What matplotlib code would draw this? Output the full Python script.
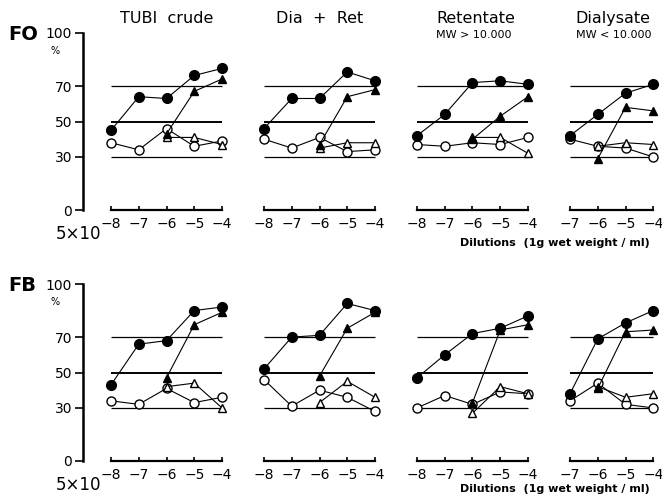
import numpy as np
import matplotlib
matplotlib.use('Agg')
import matplotlib.pyplot as plt

nan = np.nan

# dilution exponents (5x10^x g wet weight / ml)
x_full = [-8, -7, -6, -5, -4]
x_dia = [-7, -6, -5, -4]

titles = ['TUBI  crude', 'Dia  +  Ret', 'Retentate', 'Dialysate']
subtitles = ['', '', 'MW > 10.000', 'MW < 10.000']
row_names = ['FO', 'FB']
yticks = [0, 30, 50, 70, 100]

# FO row: filled circles, filled triangles, open circles, open triangles
fo_fc = [[45, 64, 63, 76, 80], [46, 63, 63, 78, 73], [42, 54, 72, 73, 71], [42, 54, 66, 71]]
fo_ft = [[nan, nan, 43, 67, 74], [nan, nan, 37, 64, 68], [nan, nan, 40, 53, 64], [nan, 29, 58, 56]]
fo_oc = [[38, 34, 46, 36, 39], [40, 35, 41, 33, 34], [37, 36, 38, 37, 41], [40, 36, 35, 30]]
fo_ot = [[nan, nan, 41, 41, 37], [nan, nan, 35, 38, 38], [nan, nan, 41, 41, 32], [nan, 36, 38, 37]]

# FB row
fb_fc = [[43, 66, 68, 85, 87], [52, 70, 71, 89, 85], [47, 60, 72, 75, 82], [38, 69, 78, 85]]
fb_ft = [[nan, nan, 47, 77, 84], [nan, nan, 48, 75, 84], [nan, nan, 33, 74, 77], [nan, 41, 73, 74]]
fb_oc = [[34, 32, 41, 33, 36], [46, 31, 40, 36, 28], [30, 37, 32, 39, 38], [34, 44, 32, 30]]
fb_ot = [[nan, nan, 42, 44, 30], [nan, nan, 33, 45, 36], [nan, nan, 27, 42, 38], [nan, 42, 36, 38]]

rows = [(fo_fc, fo_ft, fo_oc, fo_ot), (fb_fc, fb_ft, fb_oc, fb_ot)]

W, H = 662, 497
fig = plt.figure(figsize=(W / 100, H / 100), dpi=100)

px_x = 27.75      # pixels per decade
px_y = 1.77       # pixels per %
zero_px = [210, 461]                  # y pixel (from top) of 0 %
first_tick_px = [111, 264, 417, 570]  # x pixel of first tick in each panel
title_dx = [0, 0, 0.7, 0.2]


def add_panel(col, row):
    xs = x_dia if col == 3 else x_full
    x0 = xs[0]
    xlo = -9.2 if col == 0 else x0 - 0.4
    xhi = -3.6
    ylo, yhi = -5, 105
    left = first_tick_px[col] - (x0 - xlo) * px_x
    width = (xhi - xlo) * px_x
    bottom_top = zero_px[row] - ylo * px_y      # pixel from top of ylo
    height = (yhi - ylo) * px_y
    ax = fig.add_axes([left / W, (H - bottom_top) / H, width / W, height / H])
    ax.set_xlim(xlo, xhi)
    ax.set_ylim(ylo, yhi)
    ax.patch.set_alpha(0)
    return ax, xs


for r in range(2):
    fc, ft, oc, ot = rows[r]
    for c in range(4):
        ax, xs = add_panel(c, r)
        for s in ['top', 'right']:
            ax.spines[s].set_visible(False)
        ax.spines['bottom'].set_position(('data', 0))
        ax.spines['bottom'].set_bounds(xs[0], xs[-1])
        ax.spines['bottom'].set_linewidth(1.6)
        ax.set_xticks(xs)
        ax.set_xticklabels([f'\u2212{abs(v)}' for v in xs])
        ax.tick_params(axis='x', direction='in', length=3, width=1.2,
                       labelsize=10, pad=5)
        if c == 0:
            ax.spines['left'].set_position(('data', -9))
            ax.spines['left'].set_bounds(0, 100)
            ax.spines['left'].set_linewidth(1.8)
            ax.set_yticks(yticks)
            ax.tick_params(axis='y', direction='out', length=6, width=1.2,
                           labelsize=10, pad=2)
            ax.text(-10.0, 90, '%', fontsize=7, ha='center', va='center')
            ax.text(xs[0] - 0.35, -13.5, '5\u00d710', fontsize=12, ha='right',
                    va='center')
            ax.text(-11.7, 99, row_names[r], fontsize=14, fontweight='bold',
                    ha='left', va='center')
        else:
            ax.spines['left'].set_visible(False)
            ax.set_yticks([])

        # reference levels
        ax.hlines([30, 70], xs[0], xs[-1], color='black', lw=0.9)
        ax.hlines(50, xs[0], xs[-1], color='black', lw=1.4)

        ax.plot(xs, oc[c], '-o', color='black', lw=0.8, ms=6.5,
                mfc='white', mec='black', mew=1.0, zorder=3)
        ax.plot(xs, ot[c], '-^', color='black', lw=0.8, ms=5.5,
                mfc='white', mec='black', mew=1.0, zorder=3)
        ax.plot(xs, ft[c], '-^', color='black', lw=0.8, ms=5.5,
                mfc='black', mec='black', zorder=4)
        ax.plot(xs, fc[c], '-o', color='black', lw=0.8, ms=7,
                mfc='black', mec='black', zorder=4)

        if r == 0:
            if subtitles[c]:
                ax.text(xs[0] + title_dx[c], 104, titles[c], fontsize=11.5,
                        ha='left', va='bottom', clip_on=False)
                ax.text(xs[0] + title_dx[c], 99, subtitles[c], fontsize=8,
                        ha='left', va='center', clip_on=False)
            else:
                ax.text(np.mean(xs), 104, titles[c], fontsize=11.5,
                        ha='center', va='bottom', clip_on=False)

fig.text(460 / W, 1 - 243 / H, 'Dilutions  (1g wet weight / ml)',
         fontsize=8, fontweight='bold', ha='left', va='center')
fig.text(460 / W, 1 - 489 / H, 'Dilutions  (1g wet weight / ml)',
         fontsize=8, fontweight='bold', ha='left', va='center')

fig.savefig('out.png', dpi=100)
